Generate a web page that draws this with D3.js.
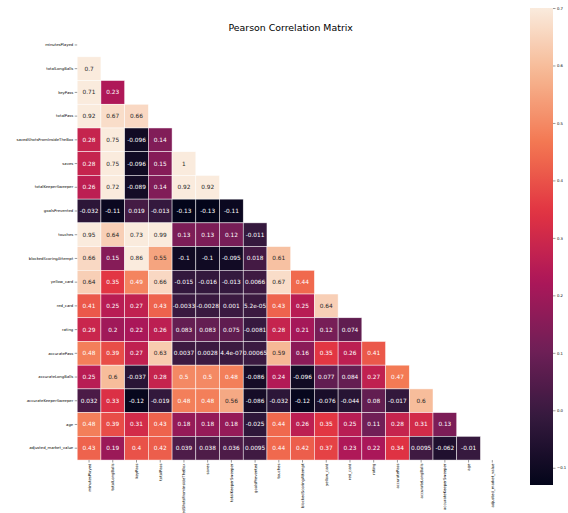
<!DOCTYPE html>
<html>
<head>
<meta charset="utf-8">
<script src="https://cdn.jsdelivr.net/npm/d3@7"></script>
<style>
  body { margin: 0; background: #ffffff; }
  svg { display: block; }
</style>
</head>
<body>
<svg id="chart" width="568" height="513"></svg>
<script>
// Variables of the correlation matrix (rows top to bottom, columns left to right)
const variables = [
  "minutesPlayed", "totalLongBalls", "keyPass", "totalPass",
  "savedShotsFromInsideTheBox", "saves", "totalKeeperSweeper", "goalsPrevented",
  "touches", "blockedScoringAttempt", "yellow_card", "red_card", "rating",
  "accuratePass", "accurateLongBalls", "accurateKeeperSweeper", "age",
  "adjusted_market_value"
];

// Lower triangle of the Pearson matrix: row i holds r(i, j) for j < i
const lowerTriangle = [
  [],
  [0.7],
  [0.71, 0.23],
  [0.92, 0.67, 0.66],
  [0.28, 0.75, -0.096, 0.14],
  [0.28, 0.75, -0.096, 0.15, 1],
  [0.26, 0.72, -0.089, 0.14, 0.92, 0.92],
  [-0.032, -0.11, 0.019, -0.013, -0.13, -0.13, -0.11],
  [0.95, 0.64, 0.73, 0.99, 0.13, 0.13, 0.12, -0.011],
  [0.66, 0.15, 0.86, 0.55, -0.1, -0.1, -0.095, 0.018, 0.61],
  [0.64, 0.35, 0.49, 0.66, -0.015, -0.016, -0.013, 0.0066, 0.67, 0.44],
  [0.41, 0.25, 0.27, 0.43, -0.0033, -0.0028, 0.001, 5.2e-05, 0.43, 0.25, 0.64],
  [0.29, 0.2, 0.22, 0.26, 0.083, 0.083, 0.075, -0.0081, 0.28, 0.21, 0.12, 0.074],
  [0.48, 0.39, 0.27, 0.63, 0.0037, 0.0028, 4.4e-07, 0.00065, 0.59, 0.16, 0.35, 0.26, 0.41],
  [0.25, 0.6, -0.037, 0.28, 0.5, 0.5, 0.48, -0.086, 0.24, -0.096, 0.077, 0.084, 0.27, 0.47],
  [0.032, 0.33, -0.12, -0.019, 0.48, 0.48, 0.56, -0.086, -0.032, -0.12, -0.076, -0.044, 0.08, -0.017, 0.6],
  [0.48, 0.39, 0.31, 0.43, 0.18, 0.18, 0.18, -0.025, 0.44, 0.26, 0.35, 0.25, 0.11, 0.28, 0.31, 0.13],
  [0.43, 0.19, 0.4, 0.42, 0.039, 0.038, 0.036, 0.0095, 0.44, 0.42, 0.37, 0.23, 0.22, 0.34, 0.0095, -0.062, -0.01]
];

const colorbarTicks = [-0.1, 0.0, 0.1, 0.2, 0.3, 0.4, 0.5, 0.6, 0.7];
const colorRange = [-0.13, 0.7];

// "rocket" sequential palette, sampled stops
const rocketStops = ["#03051a", "#35193e", "#701f57", "#ad1759", "#e13342", "#f37651", "#f6b48f", "#faebdd"];
const rocket = d3.scaleLinear()
  .domain(d3.range(rocketStops.length).map(i => i / (rocketStops.length - 1)))
  .range(rocketStops)
  .interpolate(d3.interpolateRgb)
  .clamp(true);
const norm = d3.scaleLinear().domain(colorRange).range([0, 1]).clamp(true);
const color = v => rocket(norm(v));

// Python-style "%.2g" formatting for cell annotations
function fmt2g(v) {
  if (v === 0) return "0";
  const e = Math.floor(Math.log10(Math.abs(+v.toPrecision(2))));
  if (e < -4 || e >= 2) {
    let [m, ex] = v.toExponential(1).split("e");
    m = m.replace(/\.?0+$/, "");
    const sign = ex[0] === "-" ? "-" : "+";
    const digits = ex.replace(/[+-]/, "").padStart(2, "0");
    return m + "e" + sign + digits;
  }
  let s = v.toPrecision(2);
  if (s.includes(".")) s = s.replace(/0+$/, "").replace(/\.$/, "");
  return s;
}

function luminance(c) {
  const rgb = d3.rgb(c);
  const lin = t => { t /= 255; return t <= 0.03928 ? t / 12.92 : Math.pow((t + 0.055) / 1.055, 2.4); };
  return 0.2126 * lin(rgb.r) + 0.7152 * lin(rgb.g) + 0.0722 * lin(rgb.b);
}

const svg = d3.select("#chart");
const font = "'DejaVu Sans', sans-serif";

const gridLeft = 77.2, gridTop = 33.1, cell = 23.72;
const n = variables.length;
const x = d3.scaleBand().domain(variables).range([gridLeft, gridLeft + n * cell]);
const y = d3.scaleBand().domain(variables).range([gridTop, gridTop + n * cell]);

// Title
svg.append("text")
  .attr("x", gridLeft + n * cell / 2)
  .attr("y", 30.5)
  .attr("text-anchor", "middle")
  .attr("font-family", font)
  .attr("font-size", 9.4)
  .attr("fill", "#000")
  .text("Pearson Correlation Matrix");

// Cells
const cells = [];
lowerTriangle.forEach((row, i) => row.forEach((v, j) => cells.push({ row: variables[i], col: variables[j], v })));

const g = svg.append("g");
g.selectAll("rect.cell").data(cells).join("rect")
  .attr("class", "cell")
  .attr("x", d => x(d.col))
  .attr("y", d => y(d.row))
  .attr("width", x.bandwidth())
  .attr("height", y.bandwidth())
  .attr("fill", d => color(d.v))
  .attr("stroke", "#ffffff")
  .attr("stroke-opacity", 0.8)
  .attr("stroke-width", 0.6);

g.selectAll("text.annot").data(cells).join("text")
  .attr("class", "annot")
  .attr("x", d => x(d.col) + x.bandwidth() / 2)
  .attr("y", d => y(d.row) + y.bandwidth() / 2)
  .attr("text-anchor", "middle")
  .attr("dominant-baseline", "central")
  .attr("font-family", font)
  .attr("font-size", 5.8)
  .attr("fill", d => luminance(color(d.v)) > 0.408 ? "#262626" : "#ffffff")
  .text(d => fmt2g(d.v));

// Row axis (left)
const yAxis = d3.axisLeft(y).tickSize(2.5).tickPadding(1.5);
const yg = svg.append("g").attr("transform", `translate(${gridLeft},0)`).call(yAxis);
yg.select(".domain").remove();
yg.selectAll("text").attr("font-family", font).attr("font-size", 3.8).attr("fill", "#000");
yg.selectAll("line").attr("stroke", "#000").attr("stroke-width", 0.4);

// Column axis (bottom), labels rotated
const xAxis = d3.axisBottom(x).tickSize(2.5).tickPadding(1.5);
const xg = svg.append("g").attr("transform", `translate(0,${gridTop + n * cell})`).call(xAxis);
xg.select(".domain").remove();
xg.selectAll("line").attr("stroke", "#000").attr("stroke-width", 0.4);
xg.selectAll("text")
  .attr("font-family", font).attr("font-size", 3.8).attr("fill", "#000")
  .attr("text-anchor", "end")
  .attr("dy", null)
  .attr("dominant-baseline", "central")
  .attr("transform", "translate(0,3.5) rotate(-90)")
  .attr("x", 0).attr("y", 0);

// Colorbar
const cbX = 530, cbW = 23, cbTop = 8, cbBottom = 485;
const cbScale = d3.scaleLinear().domain(colorRange).range([cbBottom, cbTop]);
const defs = svg.append("defs");
const grad = defs.append("linearGradient").attr("id", "cbGrad")
  .attr("x1", 0).attr("y1", 1).attr("x2", 0).attr("y2", 0);
d3.range(0, 1.0001, 0.02).forEach(t => {
  grad.append("stop").attr("offset", t).attr("stop-color", rocket(t));
});
svg.append("rect")
  .attr("x", cbX).attr("y", cbTop)
  .attr("width", cbW).attr("height", cbBottom - cbTop)
  .attr("fill", "url(#cbGrad)");

const cbAxis = d3.axisRight(cbScale).tickValues(colorbarTicks).tickSize(2.5).tickPadding(1.5)
  .tickFormat(d => d3.format(".1f")(d).replace("-", "\u2212"));
const cbg = svg.append("g").attr("transform", `translate(${cbX + cbW},0)`).call(cbAxis);
cbg.select(".domain").remove();
cbg.selectAll("line").attr("stroke", "#000").attr("stroke-width", 0.4);
cbg.selectAll("text").attr("font-family", font).attr("font-size", 3.8).attr("fill", "#000");
</script>
</body>
</html>
